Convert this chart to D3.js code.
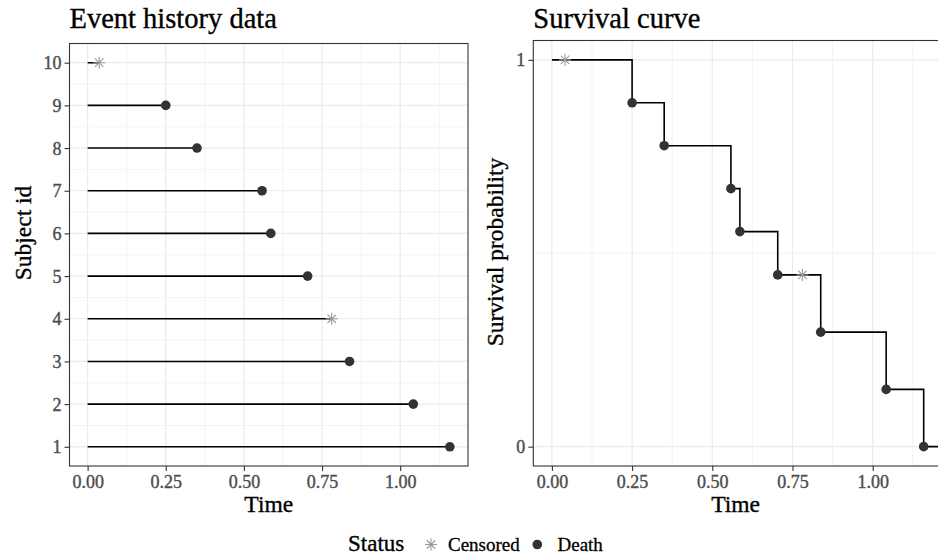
<!DOCTYPE html>
<html><head><meta charset="utf-8">
<script src="https://cdn.jsdelivr.net/npm/d3@7"></script>
<style>
html,body{margin:0;padding:0;background:#fff;}
svg text{font-family:"Liberation Serif","Times New Roman",serif;paint-order:stroke;}
</style></head>
<body>
<svg id="chart" width="938" height="556"></svg>
<script>
// ---- data ----
const subjectIds = [1,2,3,4,5,6,7,8,9,10];
const subjectTimes = [1.159,1.042,0.838,0.781,0.704,0.586,0.558,0.350,0.250,0.037];
const subjectStatus = ["Death","Death","Death","Censored","Death","Death","Death","Death","Death","Censored"];

const stepTimes = [0, 0.250, 0.350, 0.558, 0.586, 0.704, 0.838, 1.042, 1.159, 1.30];
const stepSurv  = [1, 0.889, 0.778, 0.667, 0.556, 0.444, 0.296, 0.148, 0, 0];
const deathTimes = [0.250, 0.350, 0.558, 0.586, 0.704, 0.838, 1.042, 1.159];
const deathSurv  = [0.889, 0.778, 0.667, 0.556, 0.444, 0.296, 0.148, 0];
const censTimes = [0.041, 0.781];
const censSurv  = [1, 0.444];

const xTicks = [0, 0.25, 0.5, 0.75, 1.0];
const xMinor = [0.125, 0.375, 0.625, 0.875, 1.125];
const leftYTicks = [1,2,3,4,5,6,7,8,9,10];
const leftYMinor = [1.5,2.5,3.5,4.5,5.5,6.5,7.5,8.5,9.5];
const rightYTicks = [0, 1];
const rightYMinor = [0.5];
const legendLabels = ["Censored","Death"];

const svg = d3.select("#chart");
const fmt = d3.format(".2f");
const cCens = "#9a9a9a", cDeath = "#333333";

function asterisk(g, x, y, r, color){
  const a = g.append("g").attr("transform",`translate(${x},${y})`)
    .attr("stroke",color).attr("stroke-width",1.1);
  [0,45,90,135].forEach(ang=>{
    const rad = ang*Math.PI/180;
    a.append("line").attr("x1",-r*Math.cos(rad)).attr("y1",-r*Math.sin(rad))
      .attr("x2",r*Math.cos(rad)).attr("y2",r*Math.sin(rad));
  });
}

function txt(sel, color, sw){
  return sel.attr("fill",color).attr("stroke",color).attr("stroke-width",sw);
}

function panel(opts){
  const {x0,x1,y0,y1,xs,ys,yTicks,yMinor,yFmt,title,ylab,ylabX,ylabY} = opts;
  const g = svg.append("g");
  const clipId = "clip"+Math.round(x0);
  svg.append("clipPath").attr("id",clipId).append("rect")
    .attr("x",x0).attr("y",y0).attr("width",x1-x0).attr("height",y1-y0);
  const grid = g.append("g").attr("clip-path",`url(#${clipId})`);
  xMinor.forEach(v=>grid.append("line").attr("x1",xs(v)).attr("x2",xs(v)).attr("y1",y0).attr("y2",y1)
    .attr("stroke","#ebebeb").attr("stroke-width",0.6));
  yMinor.forEach(v=>grid.append("line").attr("y1",ys(v)).attr("y2",ys(v)).attr("x1",x0).attr("x2",x1)
    .attr("stroke","#ebebeb").attr("stroke-width",0.6));
  xTicks.forEach(v=>grid.append("line").attr("x1",xs(v)).attr("x2",xs(v)).attr("y1",y0).attr("y2",y1)
    .attr("stroke","#ebebeb").attr("stroke-width",1.2));
  yTicks.forEach(v=>grid.append("line").attr("y1",ys(v)).attr("y2",ys(v)).attr("x1",x0).attr("x2",x1)
    .attr("stroke","#ebebeb").attr("stroke-width",1.2));
  const data = g.append("g").attr("clip-path",`url(#${clipId})`);
  g.append("rect").attr("x",x0).attr("y",y0).attr("width",x1-x0).attr("height",y1-y0)
    .attr("fill","none").attr("stroke","#333").attr("stroke-width",1.1);
  const xAxis = d3.axisBottom(xs).tickValues(xTicks).tickFormat(fmt).tickSize(5).tickPadding(3);
  const xa = g.append("g").attr("transform",`translate(0,${y1})`).call(xAxis);
  xa.select(".domain").remove();
  xa.selectAll("line").attr("stroke","#333").attr("stroke-width",1.1);
  txt(xa.selectAll("text"),"#4d4d4d",0.4).attr("font-size",18).attr("dy","0.75em");
  const yAxis = d3.axisLeft(ys).tickValues(yTicks).tickFormat(yFmt).tickSize(5).tickPadding(3);
  const ya = g.append("g").attr("transform",`translate(${x0},0)`).call(yAxis);
  ya.select(".domain").remove();
  ya.selectAll("line").attr("stroke","#333").attr("stroke-width",1.1);
  txt(ya.selectAll("text"),"#4d4d4d",0.4).attr("font-size",18).attr("dy","0.34em");
  txt(g.append("text").attr("x",x0).attr("y",28).attr("font-size",28.5),"#000",0.35).text(title);
  txt(g.append("text").attr("x",(x0+Math.min(x1,938))/2).attr("y",512).attr("text-anchor","middle")
    .attr("font-size",23.5),"#000",0.35).text("Time");
  txt(g.append("text").attr("transform",`translate(${ylabX},${ylabY}) rotate(-90)`)
    .attr("text-anchor","middle").attr("font-size",23.5),"#000",0.35).text(ylab);
  return data;
}

// left panel
const xL = d3.scaleLinear().domain([-0.058,1.217]).range([69.5,468]);
const yL = d3.scaleLinear().domain([0.55,10.45]).range([466,43.5]);
const dL = panel({x0:69.5,x1:468,y0:43.5,y1:466,xs:xL,ys:yL,yTicks:leftYTicks,yMinor:leftYMinor,
  yFmt:d3.format("d"),title:"Event history data",ylab:"Subject id",ylabX:31,ylabY:233});
subjectIds.forEach((id,i)=>{
  dL.append("line").attr("x1",xL(0)).attr("x2",xL(subjectTimes[i])).attr("y1",yL(id)).attr("y2",yL(id))
    .attr("stroke","#000").attr("stroke-width",1.6);
});
subjectIds.forEach((id,i)=>{
  if(subjectStatus[i]==="Death")
    dL.append("circle").attr("cx",xL(subjectTimes[i])).attr("cy",yL(id)).attr("r",4.8).attr("fill",cDeath);
  else asterisk(dL, xL(subjectTimes[i]), yL(id), 6, cCens);
});

// right panel
const xR = d3.scaleLinear().domain([-0.058,1.217]).range([533.3,942.3]);
const yR = d3.scaleLinear().domain([-0.05,1.05]).range([466,40.5]);
const dR = panel({x0:533.3,x1:942.3,y0:40.5,y1:466,xs:xR,ys:yR,yTicks:rightYTicks,yMinor:rightYMinor,
  yFmt:d3.format("d"),title:"Survival curve",ylab:"Survival probability",ylabX:503,ylabY:252});
const stepData = stepTimes.map((t,i)=>[t,stepSurv[i]]);
dR.append("path").datum(stepData)
  .attr("d", d3.line().x(d=>xR(d[0])).y(d=>yR(d[1])).curve(d3.curveStepAfter))
  .attr("fill","none").attr("stroke","#000").attr("stroke-width",1.6);
deathTimes.forEach((t,i)=>dR.append("circle").attr("cx",xR(t)).attr("cy",yR(deathSurv[i])).attr("r",4.8).attr("fill",cDeath));
censTimes.forEach((t,i)=>asterisk(dR, xR(t), yR(censSurv[i]), 6, cCens));

// legend
const lg = svg.append("g");
txt(lg.append("text").attr("x",348).attr("y",551).attr("font-size",23),"#000",0.35).text("Status");
asterisk(lg, 431, 544.5, 6, cCens);
txt(lg.append("text").attr("x",448).attr("y",551).attr("font-size",19),"#000",0.3).text(legendLabels[0]);
lg.append("circle").attr("cx",537.3).attr("cy",544.5).attr("r",4.8).attr("fill",cDeath);
txt(lg.append("text").attr("x",557.5).attr("y",551).attr("font-size",19),"#000",0.3).text(legendLabels[1]);
</script>
</body></html>
